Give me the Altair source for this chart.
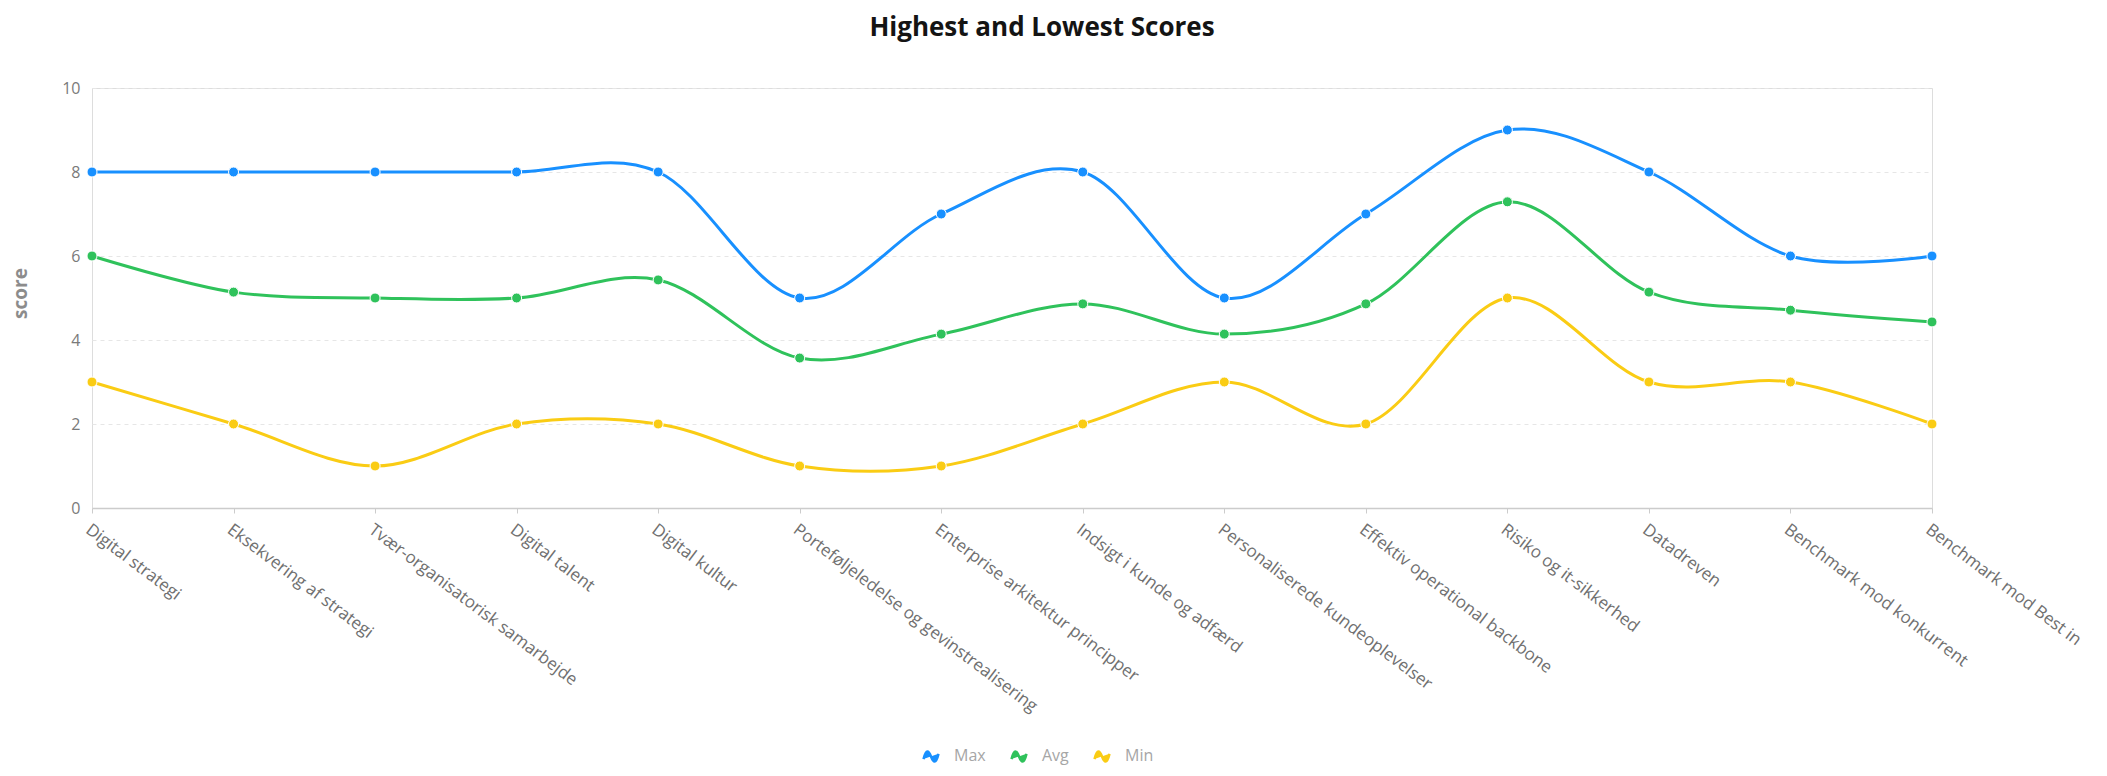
import altair as alt
import pandas as pd

title_text = "Highest and Lowest Scores"
y_title = "score"

categories = [
    "Digital strategi",
    "Eksekvering af strategi",
    "Tvær-organisatorisk samarbejde",
    "Digital talent",
    "Digital kultur",
    "Porteføljeledelse og gevinstrealisering",
    "Enterprise arkitektur principper",
    "Indsigt i kunde og adfærd",
    "Personaliserede kundeoplevelser",
    "Effektiv operational backbone",
    "Risiko og it-sikkerhed",
    "Datadreven",
    "Benchmark mod konkurrent",
    "Benchmark mod Best in",
]
max_scores = [8, 8, 8, 8, 8, 5, 7, 8, 5, 7, 9, 8, 6, 6]
avg_scores = [6.0, 5.14, 5.0, 5.0, 5.43, 3.57, 4.14, 4.86, 4.14, 4.86, 7.29, 5.14, 4.71, 4.43]
min_scores = [3, 2, 1, 2, 2, 1, 1, 2, 3, 2, 5, 3, 3, 2]

series_names = ["Max", "Avg", "Min"]
series_colors = ["#1890FF", "#2FC25B", "#FACC14"]
y_ticks = [0, 2, 4, 6, 8, 10]

rows = []
for name, vals in zip(series_names, [max_scores, avg_scores, min_scores]):
    for c, v in zip(categories, vals):
        rows.append({"category": c, "score": v, "series": name})
df = pd.DataFrame(rows)
title_df = pd.DataFrame({"title": [title_text]})

FONT = "Open Sans"
WAVE = "M-1,0.35 C-0.65,-1.1 -0.3,-0.8 0,0 C0.3,0.8 0.65,1.1 1,-0.35"

x_enc = alt.X(
    "category:N",
    sort=categories,
    scale=alt.Scale(type="point", padding=0),
    axis=alt.Axis(
        title=None,
        labelAngle=37,
        labelAlign="left",
        labelBaseline="top",
        labelPadding=8,
        labelFontSize=17,
        labelColor="#707070",
        labelFont=FONT,
        labelOverlap=False,
        labelLimit=500,
        tickSize=5,
        tickColor="#cccccc",
        domainColor="#cccccc",
        domainWidth=1.5,
        grid=False,
    ),
)
y_enc = alt.Y(
    "score:Q",
    scale=alt.Scale(domain=[0, 10], nice=False),
    axis=alt.Axis(
        title=y_title,
        values=y_ticks,
        titleFont=FONT,
        titleFontSize=19,
        titleFontWeight="bold",
        titleColor="#8c8c8c",
        titleAngle=-90,
        titleX=-72,
        titleY=205,
        titleAlign="center",
        titleBaseline="middle",
        labelFontSize=16,
        labelColor="#7a7a7a",
        labelFont=FONT,
        labelPadding=12,
        ticks=False,
        domain=False,
        grid=True,
        gridColor="#e6e6e6",
        gridDash=[4, 4],
        gridWidth=1,
    ),
)

lines = alt.Chart(df).mark_line(interpolate="cardinal", strokeWidth=3).encode(
    x=x_enc,
    y=y_enc,
    color=alt.Color(
        "series:N",
        sort=series_names,
        scale=alt.Scale(domain=series_names, range=series_colors),
        legend=alt.Legend(
            title=None,
            orient="none",
            legendX=830,
            legendY=659,
            direction="horizontal",
            symbolType=WAVE,
            symbolSize=225,
            symbolStrokeWidth=2.5,
            symbolFillColor="transparent",
            labelFontSize=16,
            labelColor="#a6a6a6",
            labelFont=FONT,
            labelOffset=14,
            columnPadding=20,
        ),
    ),
    detail="series:N",
)

points = alt.Chart(df).mark_point(filled=True, size=100, opacity=1, stroke="white", strokeWidth=1).encode(
    x=x_enc,
    y=y_enc,
    fill=alt.Fill(
        "series:N",
        scale=alt.Scale(domain=series_names, range=series_colors),
        legend=None,
    ),
)

title_mark = alt.Chart(title_df).mark_text(
    font=FONT,
    fontSize=26,
    fontWeight="bold",
    color="#141414",
    align="center",
    baseline="alphabetic",
).encode(
    text="title:N",
    x=alt.value(950),
    y=alt.value(-52),
)

chart = (
    alt.layer(lines, points, title_mark)
    .properties(
        width=1840,
        height=420,
        autosize=alt.AutoSizeParams(type="none"),
        padding={"left": 84, "top": 80, "right": 167, "bottom": 260},
    )
    .configure_view(strokeWidth=0, stroke="transparent")
    .configure(background="white")
)

chart.save("out.html", embed_options={"renderer": "svg", "actions": False})
